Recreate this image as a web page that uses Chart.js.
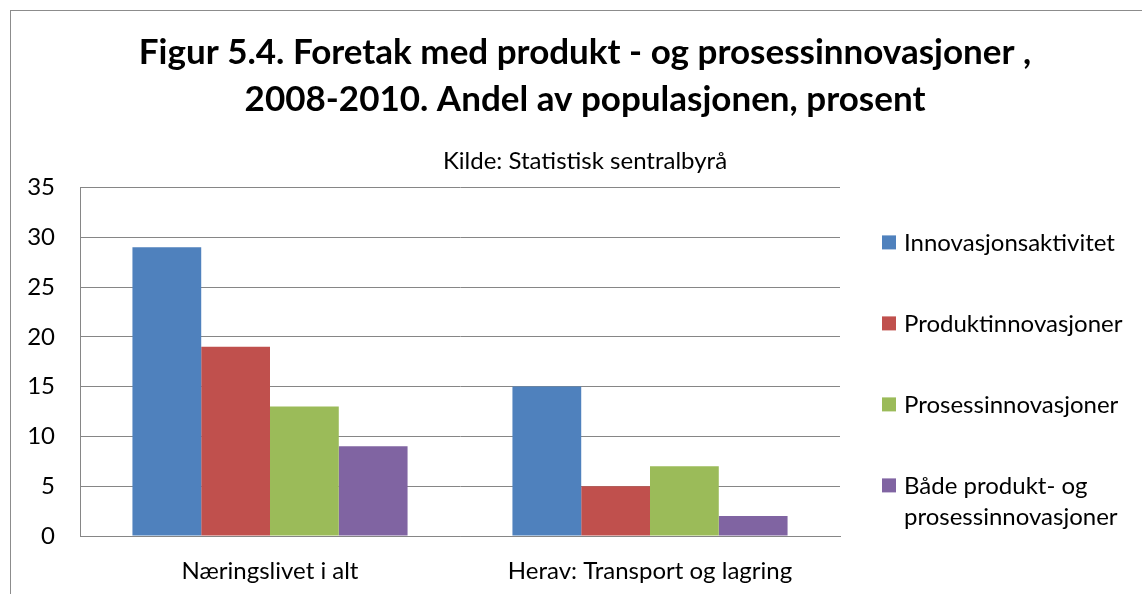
<!DOCTYPE html>
<html>
<head>
<meta charset="utf-8">
<script src="https://cdn.jsdelivr.net/npm/chart.js@4.4.1/dist/chart.umd.min.js"></script>
<style>
  html, body { margin: 0; padding: 0; background: #fff; overflow: hidden; }
  #frame {
    position: absolute; left: 10px; top: 10px;
    width: 1160px; height: 620px;
    border: 1.5px solid #8c8c8c;
  }
  #wrap { position: absolute; left: 0; top: 0; width: 1148px; height: 606px; }
</style>
</head>
<body>
<div id="frame"><div id="wrap"><canvas id="chart"></canvas></div></div>
<script>
// Data
const categories = ['Næringslivet i alt', 'Herav: Transport og lagring'];
const seriesNames = ['Innovasjonsaktivitet', 'Produktinnovasjoner', 'Prosessinnovasjoner', 'Både produkt- og prosessinnovasjoner'];
const legendLines = [['Innovasjonsaktivitet'], ['Produktinnovasjoner'], ['Prosessinnovasjoner'], ['Både produkt- og', 'prosessinnovasjoner']];
const innovasjon = [29, 15];
const produkt = [19, 5];
const prosess = [13, 7];
const begge = [9, 2];
const seriesColors = ['#4F81BD', '#C0504D', '#9BBB59', '#8064A2'];
const yTicks = [0, 5, 10, 15, 20, 25, 30, 35];

const fontFamily = 'Lato, "Open Sans", sans-serif';
const gridColor = '#868686';

// Legend on the right, drawn by hand so the last label can wrap
const sideLegend = {
    id: 'sideLegend',
    afterDraw(chart) {
        const ctx = chart.ctx;
        const area = chart.chartArea;
        ctx.save();
        ctx.font = '24px ' + fontFamily;
        ctx.textBaseline = 'middle';
        let y = area.top + 55;
        chart.data.datasets.forEach((ds, i) => {
            ctx.fillStyle = ds.backgroundColor;
            ctx.fillRect(area.right + 42, y - 7, 14, 14);
            ctx.fillStyle = '#000';
            legendLines[i].forEach((line, j) => {
                ctx.fillText(line, area.right + 64, y + 1 + j * 31);
            });
            y += 81;
        });
        ctx.restore();
    }
};

const seriesData = [innovasjon, produkt, prosess, begge];

new Chart(document.getElementById('chart'), {
    type: 'bar',
    data: {
        labels: categories,
        datasets: seriesNames.map((name, i) => ({
            label: name,
            data: seriesData[i],
            backgroundColor: seriesColors[i],
            borderWidth: 0,
            categoryPercentage: 0.724,
            barPercentage: 1.0
        }))
    },
    options: {
        responsive: true,
        maintainAspectRatio: false,
        animation: false,
        layout: { padding: { left: 0, right: 0, top: 0, bottom: 11 } },
        plugins: {
            legend: { display: false },
            tooltip: { enabled: false },
            title: {
                display: true,
                text: ['Figur 5.4. Foretak med produkt - og prosessinnovasjoner ,', '2008-2010. Andel av populasjonen, prosent'],
                color: '#000',
                font: { family: fontFamily, size: 35, weight: 'bold', lineHeight: 1.32 },
                padding: { top: 19, bottom: 27 }
            },
            subtitle: {
                display: true,
                text: 'Kilde: Statistisk sentralbyrå',
                color: '#000',
                font: { family: fontFamily, size: 24, lineHeight: 1.0 },
                padding: { top: 0, bottom: 14 }
            }
        },
        scales: {
            x: {
                grid: { display: false, drawTicks: false },
                border: { display: true, color: gridColor, width: 1 },
                ticks: { color: '#000', font: { family: fontFamily, size: 24, lineHeight: 1.0 }, padding: 23 }
            },
            y: {
                min: 0,
                max: 35,
                afterBuildTicks: scale => { scale.ticks = yTicks.map(v => ({ value: v })); },
                afterFit: scale => { scale.width = 69; },
                grid: { color: gridColor, lineWidth: 1, drawTicks: false },
                border: { display: true, color: gridColor, width: 1 },
                ticks: { color: '#000', font: { family: fontFamily, size: 24, lineHeight: 1.0 }, padding: 25 }
            },
            // empty axis that reserves room for the legend on the right
            legendSpace: {
                position: 'right',
                display: true,
                grid: { display: false, drawTicks: false },
                border: { display: false },
                ticks: { display: false },
                afterFit: scale => { scale.width = 319; }
            }
        }
    },
    plugins: [sideLegend]
});
</script>
</body>
</html>
